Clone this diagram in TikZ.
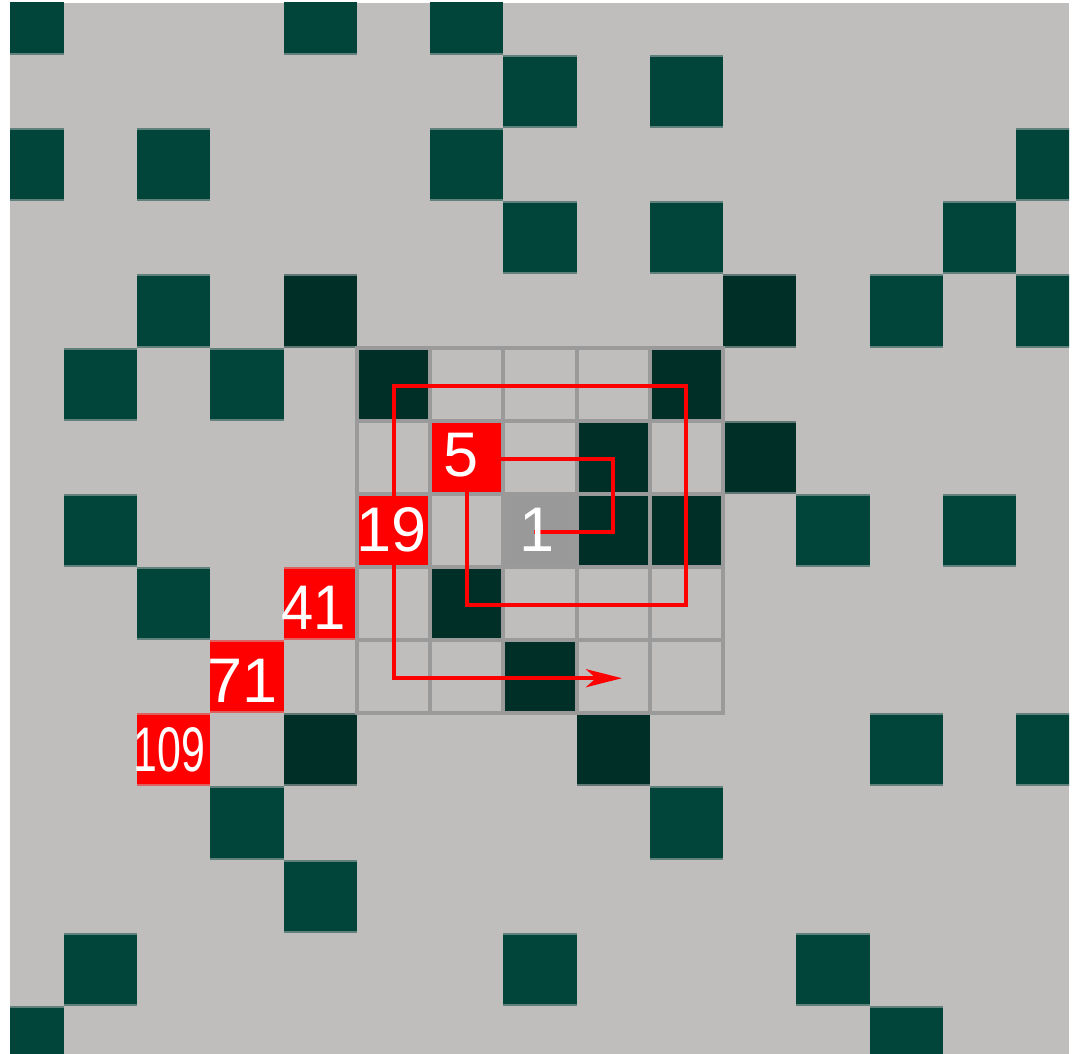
\documentclass[tikz,border=0pt]{standalone}
\usepackage{fontspec}
\usepackage{graphicx}
\setmainfont{Liberation Sans}
\usetikzlibrary{arrows.meta}
\definecolor{bggray}{RGB}{192,189,189}
\definecolor{tealA}{RGB}{0,68,58}
\definecolor{tealB}{RGB}{0,47,39}
\definecolor{gridgray}{RGB}{154,154,154}
\definecolor{centergray}{RGB}{153,153,153}
\definecolor{pathred}{RGB}{255,0,0}
\tikzset{
  numlabel/.style={text=white, inner sep=0pt, font=\fontsize{63}{63}\selectfont},
  spiral/.style={draw=pathred, line width=4pt, -{Stealth[length=36pt,width=18pt,inset=10pt]}},
  gridline/.style={draw=gridgray, line width=4pt, line cap=rect},
  seam/.style={fill=bggray, opacity=0.5},
}
\begin{document}
\begin{tikzpicture}[x=1pt,y=-1pt]
\useasboundingbox (0,0) rectangle (1072,1054);
\fill[white] (0,0) rectangle (1072,1054);
\fill[bggray] (10,3) rectangle (1069,1054);
\begin{scope}
\clip (10,3) rectangle (1069,1054);
% primes, outer rings
\foreach \c/\r in {11/7, 9/3, 7/3, 3/5, 3/11, 9/11, 12/10, 12/4, 6/2, 2/2, 2/4, 2/8, 4/12, 13/7, 13/3, 9/1, 7/1, 1/5, 1/7, 1/13, 7/13, 11/13, 14/10, 14/4, 14/2, 6/0, 4/0, 0/0, 0/2, 0/14, 12/14}
  \fill[tealA] ({-9.2+73.23*\c},{-18.2+73.15*\r}) rectangle ++(73.23,73.15);
% primes, inner rings
\foreach \c/\r in {8/7, 8/6, 6/8, 9/7, 9/5, 5/5, 7/9, 10/6, 10/4, 4/4, 4/10, 8/10}
  \fill[tealB] ({-9.2+73.23*\c},{-18.2+73.15*\r}) rectangle ++(73.23,73.15);
% highlighted diagonal
\foreach \c/\r in {6/6, 5/7, 4/8, 3/9, 2/10}
  \fill[pathred] ({-9.2+73.23*\c},{-18.2+73.15*\r}) rectangle ++(73.23,73.15);
% centre cell
\fill[centergray] ({-9.2+73.23*7},{-18.2+73.15*7}) rectangle ++(73.23,73.15);
% seams between rows
\foreach \r in {1,...,14}
  \fill[seam] (10,{-18.2+73.15*\r-2}) rectangle (1069,{-18.2+73.15*\r+2});
\end{scope}
% grid around the centre
\foreach \c in {5,...,10}
  \draw[gridline] ({-9.2+73.23*\c},347.55) -- ({-9.2+73.23*\c},713.3);
\foreach \r in {5,...,10}
  \draw[gridline] (356.95,{-18.2+73.15*\r}) -- (723.1,{-18.2+73.15*\r});
% spiral path
\coordinate (s1) at (534,531.9);
\coordinate (s2) at (613.2,531.9);
\coordinate (s3) at (613.2,458.8);
\coordinate (s5) at (466.8,458.8);
\coordinate (s7) at (466.8,605.1);
\coordinate (s10) at (686.4,605.1);
\coordinate (s13) at (686.4,385.6);
\coordinate (s17) at (393.6,385.6);
\coordinate (s21) at (393.6,678.2);
\coordinate (s24) at (622,678.2);
\draw[spiral] (s1) -- (s2) -- (s3) -- (s5) -- (s7) -- (s10) -- (s13) -- (s17) -- (s21) -- (s24);
% numbers
\node[numlabel] (n1) at (537,530) {1};
\node[numlabel] (n5) at (461,455.5) {5};
\node[numlabel] (n19) at (391.5,530) {19};
\node[numlabel] (n41) at (314,607.5) {\scalebox{0.92}[1]{41}};
\node[numlabel] (n71) at (243,680.5) {71};
\node[numlabel] (n109) at (169.5,749.5) {\scalebox{0.68}[1]{109}};
\end{tikzpicture}
\end{document}
